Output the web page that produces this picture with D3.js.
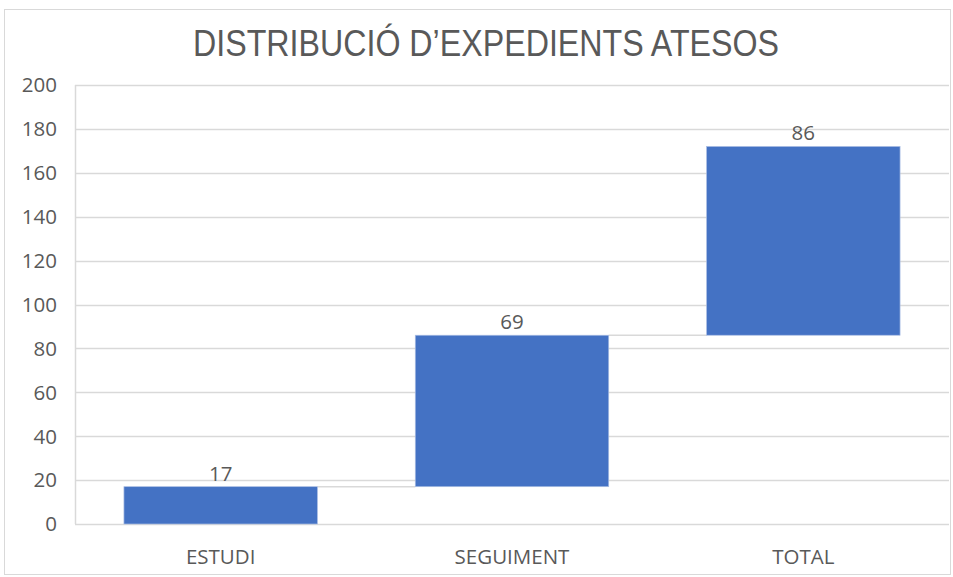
<!DOCTYPE html>
<html><head><meta charset="utf-8">
<script src="https://cdn.jsdelivr.net/npm/d3@7"></script>
<style>body{margin:0;background:#fff}svg{display:block}</style>
</head><body>
<svg id="c" width="953" height="577"></svg>
<script>
const categories = ["ESTUDI", "SEGUIMENT", "TOTAL"];
const values = [17, 69, 86];
const isTotal = [false, false, true];
const yTicks = [0, 20, 40, 60, 80, 100, 120, 140, 160, 180, 200];
const title = "DISTRIBUCIÓ D\u2019EXPEDIENTS ATESOS";

// waterfall bases
let run = 0;
const bars = categories.map((c, i) => {
  const base = run;
  const top = base + values[i];
  run = top;
  return {c, v: values[i], base, top};
});

const svg = d3.select("#c");
svg.append("rect").attr("x", 4.5).attr("y", 9.5).attr("width", 946).attr("height", 565)
  .attr("fill", "#fff").attr("stroke", "#d9d9d9");

const m = {l: 75, r: 949, t: 85, b: 524};
const x = d3.scaleBand().domain(categories).range([m.l, m.r]).paddingInner(0.336).paddingOuter(0.168);
const y = d3.scaleLinear().domain([0, 200]).range([m.b, m.t]);

const font = "'Open Sans', 'Noto Sans', sans-serif";

// gridlines
svg.append("g").selectAll("line").data(yTicks).join("line")
  .attr("x1", m.l).attr("x2", m.r)
  .attr("y1", d => Math.round(y(d)) + 0.5).attr("y2", d => Math.round(y(d)) + 0.5)
  .attr("stroke", "#d9d9d9").attr("stroke-width", 1.5);

// left vertical axis line
svg.append("line").attr("x1", m.l + 0.5).attr("x2", m.l + 0.5)
  .attr("y1", y(200)).attr("y2", y(0))
  .attr("stroke", "#d9d9d9").attr("stroke-width", 1.5);

// y tick labels
svg.append("g").selectAll("text").data(yTicks).join("text")
  .attr("x", 57).attr("y", d => y(d)).attr("dy", "0.36em")
  .attr("text-anchor", "end").attr("font-family", font).attr("font-size", 20.5)
  .attr("fill", "#595959").text(d => d);

// connectors
svg.append("g").selectAll("line").data(bars.slice(0, -1)).join("line")
  .attr("x1", (d) => x(d.c) + x.bandwidth())
  .attr("x2", (d, i) => x(categories[i + 1]))
  .attr("y1", d => y(d.top)).attr("y2", d => y(d.top))
  .attr("stroke", "#d9d9d9").attr("stroke-width", 1.5);

// bars
svg.append("g").selectAll("rect").data(bars).join("rect")
  .attr("x", d => x(d.c)).attr("width", x.bandwidth())
  .attr("y", d => y(d.top)).attr("height", d => y(d.base) - y(d.top))
  .attr("fill", "#4472c4").attr("stroke", "#a9bde3").attr("stroke-width", 0.7);

// value labels
svg.append("g").selectAll("text").data(bars).join("text")
  .attr("x", d => x(d.c) + x.bandwidth() / 2).attr("y", d => y(d.top) - 6)
  .attr("text-anchor", "middle").attr("font-family", font).attr("font-size", 20.5)
  .attr("fill", "#595959").text(d => d.v);

// category labels
svg.append("g").selectAll("text").data(categories).join("text")
  .attr("x", d => x(d) + x.bandwidth() / 2).attr("y", 564)
  .attr("text-anchor", "middle").attr("font-family", font).attr("font-size", 20.5)
  .attr("fill", "#595959").text(d => d);

// title
svg.append("text").attr("x", 486).attr("y", 56).attr("text-anchor", "middle")
  .attr("font-family", "'Liberation Sans Narrow', 'Liberation Sans', Arial, sans-serif").attr("font-size", 36)
  .attr("textLength", 586).attr("lengthAdjust", "spacingAndGlyphs")
  .attr("fill", "#595959").text(title);
</script>
</body></html>
